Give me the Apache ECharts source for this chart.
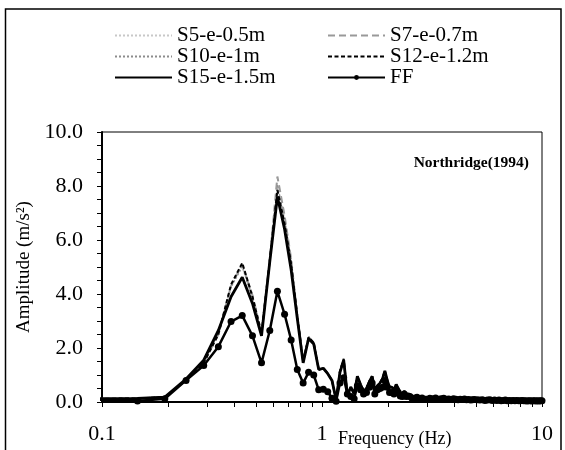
<!DOCTYPE html>
<html>
<head>
<meta charset="utf-8">
<script src="https://cdn.jsdelivr.net/npm/echarts@6/dist/echarts.min.js"></script>
<style>html,body{margin:0;padding:0;background:#fff}#c{width:565px;height:450px}</style>
</head>
<body>
<div id="c"></div>
<script>
// Frequency grid (Hz)
const freqLow = [0.097,0.145,0.193,0.241,0.290,0.338,0.386,0.434,0.483,0.531,
  0.579,0.627,0.676,0.724,0.772,0.821,0.869,0.917,0.966,1.014,
  1.062,1.110,1.159,1.207,1.255,1.304,1.352,1.400,1.448,1.497,
  1.545,1.593,1.642,1.690,1.738,1.786,1.835,1.883,1.931,1.980,
  2.028,2.076,2.124,2.173,2.221,2.269,2.318,2.366,2.414,2.463,
  2.511,2.559,2.607,2.656,2.704,2.752,2.801,2.849,2.897,2.945,2.994];
const freqHigh = [3.091,3.187,3.284,3.380,3.477,3.574,3.670,3.767,3.863,3.960,
  4.056,4.153,4.250,4.346,4.443,4.539,4.636,4.732,4.829,4.925,
  5.070,5.215,5.360,5.505,5.650,5.795,5.940,6.085,6.230,6.375,
  6.520,6.665,6.810,6.955,7.100,7.245,7.390,7.535,7.680,7.825,
  7.970,8.115,8.260,8.405,8.550,8.695,8.840,8.985,9.130,9.275,
  9.420,9.565,9.710,9.855,10.000];
const freqTail = [3.5,4,5,6,7,8,9,10];

// Amplitudes (m/s^2)
const s5Low = [0.12,0.13,0.18,0.82,1.48,2.55,4.25,5.00,3.85,2.50,
  5.25,7.95,6.70,5.25,3.20,1.50,2.40,2.20,1.22,1.25,
  1.05,0.80,0.10,1.12,1.58,0.25,0.55,0.30,0.95,0.65,
  0.40,0.50,0.76,0.95,0.45,0.60,0.70,0.86,1.15,0.80,
  0.55,0.55,0.45,0.65,0.50,0.35,0.28,0.40,0.30,0.30,
  0.25,0.20,0.12,0.18,0.22,0.15,0.15,0.20,0.15,0.12,0.12];
const s5Tail = [0.12,0.10,0.08,0.07,0.06,0.05,0.05,0.05];
const s7Low = [0.12,0.13,0.18,0.80,1.45,2.50,4.30,5.10,3.95,2.55,
  5.30,8.35,6.90,5.30,3.20,1.50,2.40,2.20,1.25,1.25,
  1.05,0.80,0.10,1.15,1.60,0.25,0.55,0.30,0.95,0.65,
  0.40,0.50,0.78,0.95,0.45,0.60,0.70,0.88,1.15,0.80,
  0.55,0.55,0.45,0.65,0.50,0.35,0.28,0.40,0.30,0.30,
  0.25,0.20,0.12,0.18,0.22,0.15,0.15,0.20,0.15,0.12,0.12];
const s7Tail = [0.12,0.10,0.08,0.07,0.06,0.05,0.05,0.05];
const s10Low = [0.12,0.13,0.18,0.82,1.48,2.55,4.28,5.02,3.88,2.52,
  5.25,8.05,6.75,5.28,3.20,1.50,2.40,2.20,1.22,1.25,
  1.05,0.80,0.10,1.12,1.58,0.25,0.55,0.30,0.95,0.65,
  0.40,0.50,0.76,0.95,0.45,0.60,0.70,0.86,1.15,0.80,
  0.55,0.55,0.45,0.65,0.50,0.35,0.28,0.40,0.30,0.30,
  0.25,0.20,0.12,0.18,0.22,0.15,0.15,0.20,0.15,0.12,0.12];
const s10Tail = [0.12,0.10,0.08,0.07,0.06,0.05,0.05,0.05];
const s12Low = [0.12,0.13,0.18,0.80,1.45,2.50,4.35,5.15,3.90,2.55,
  5.25,7.85,6.60,5.10,3.20,1.50,2.40,2.20,1.20,1.25,
  1.05,0.80,0.10,1.15,1.60,0.25,0.55,0.30,0.95,0.65,
  0.40,0.50,0.78,0.95,0.45,0.60,0.70,0.88,1.15,0.80,
  0.55,0.55,0.45,0.65,0.50,0.35,0.28,0.40,0.30,0.30,
  0.25,0.20,0.12,0.18,0.22,0.15,0.15,0.20,0.15,0.12,0.12];
const s12Tail = [0.12,0.10,0.08,0.07,0.06,0.05,0.05,0.05];
const s15Low = [0.12,0.13,0.18,0.85,1.55,2.65,3.90,4.62,3.65,2.45,
  5.20,7.60,6.40,4.90,3.10,1.45,2.35,2.15,1.20,1.25,
  1.05,0.80,0.08,1.10,1.55,0.25,0.55,0.30,0.95,0.65,
  0.40,0.50,0.75,0.95,0.45,0.60,0.70,0.85,1.15,0.80,
  0.55,0.55,0.45,0.65,0.50,0.35,0.28,0.40,0.30,0.30,
  0.25,0.20,0.12,0.18,0.22,0.15,0.15,0.20,0.15,0.12,0.12];
const s15Tail = [0.12,0.10,0.08,0.07,0.06,0.05,0.05,0.05];
const ffLow = [0.08,0.04,0.12,0.80,1.35,2.05,2.98,3.20,2.45,1.45,
  2.65,4.10,3.25,2.30,1.20,0.70,1.10,1.00,0.45,0.47,
  0.38,0.14,0.03,0.70,0.90,0.30,0.20,0.12,0.60,0.45,
  0.30,0.35,0.55,0.70,0.30,0.45,0.50,0.55,0.80,0.55,
  0.35,0.35,0.30,0.45,0.35,0.22,0.20,0.30,0.20,0.22,
  0.20,0.15,0.10,0.15,0.18,0.12,0.12,0.15,0.10,0.10,0.10];
const ffHigh = [0.14,0.12,0.15,0.10,0.12,0.14,0.10,0.11,0.09,0.12,
  0.10,0.08,0.10,0.09,0.11,0.08,0.09,0.07,0.08,0.09,
  0.08,0.07,0.08,0.06,0.07,0.08,0.06,0.07,0.06,0.07,
  0.05,0.06,0.07,0.05,0.06,0.05,0.06,0.05,0.06,0.05,
  0.05,0.06,0.05,0.05,0.04,0.05,0.05,0.04,0.05,0.05,
  0.04,0.05,0.04,0.05,0.05];

const xTickValues = [0.1,0.2,0.3,0.4,0.5,0.6,0.7,0.8,0.9,1,2,3,4,5,6,7,8,9,10];

function pairs(xs, ys) { return xs.map((x, i) => [x, ys[i]]); }

const FONT = '"Liberation Serif", "Times New Roman", serif';
const chart = echarts.init(document.getElementById('c'), null, {renderer: 'canvas'});

function sSeries(name, low, tail, color, width, dash, z) {
  return {
    name: name, type: 'line', symbol: 'none', z: z,
    data: pairs(freqLow.concat(freqTail), low.concat(tail)),
    lineStyle: {color: color, width: width, type: dash},
    itemStyle: {color: color},
    clip: true
  };
}
const hideSym = {color: 'transparent', opacity: 0, borderWidth: 0};
const legendText = {fontFamily: FONT, fontSize: 21, color: '#000', lineHeight: 21};

chart.setOption({
  animation: false,
  backgroundColor: '#fff',
  graphic: [{
    type: 'rect', silent: true, z: -10,
    shape: {x: 5.5, y: 9, width: 555.5, height: 470},
    style: {fill: 'none', stroke: '#000', lineWidth: 1.5}
  }],
  title: [
    {text: 'Northridge(1994)', right: 31, top: 150,
     textStyle: {fontFamily: FONT, fontSize: 15.5, fontWeight: 'bold', color: '#000'}},
    {text: 'Frequency (Hz)', left: 333, top: 425,
     textStyle: {fontFamily: FONT, fontSize: 18, fontWeight: 'normal', color: '#000'}}
  ],
  legend: [
    {data: [{name: 'S5-e-0.5m', itemStyle: hideSym}, {name: 'S10-e-1m', itemStyle: hideSym},
            {name: 'S15-e-1.5m', itemStyle: hideSym}],
     orient: 'vertical', left: 109, top: 20, itemWidth: 57, itemHeight: 6, itemGap: 0,
     textStyle: legendText},
    {data: [{name: 'S7-e-0.7m', itemStyle: hideSym}, {name: 'S12-e-1.2m', itemStyle: hideSym}, 'FF'],
     orient: 'vertical', left: 322, top: 20, itemWidth: 57, itemHeight: 6, itemGap: 0,
     textStyle: legendText}
  ],
  grid: {left: 102, right: 23, top: 132, bottom: 48, show: true,
         borderColor: '#000', borderWidth: 1, backgroundColor: 'transparent'},
  xAxis: {
    type: 'log', logBase: 10, min: 0.1, max: 10,
    axisLine: {show: true, lineStyle: {color: '#000', width: 2}},
    axisTick: {show: true, inside: false, length: 5, customValues: xTickValues,
               lineStyle: {color: '#000', width: 1}},
    axisLabel: {fontFamily: FONT, fontSize: 22, color: '#000', margin: 21,
                formatter: v => String(v)},
    splitLine: {show: false}
  },
  yAxis: {
    type: 'value', min: 0, max: 10, interval: 2,
    name: 'Amplitude (m/s²)', nameLocation: 'middle', nameGap: 66,
    nameTextStyle: {fontFamily: FONT, fontSize: 19, color: '#000'},
    axisLine: {show: true, lineStyle: {color: '#000', width: 2}},
    axisTick: {show: true, inside: false, length: 5, lineStyle: {color: '#000', width: 1}},
    minorTick: {show: true, splitNumber: 4, length: 5, lineStyle: {color: '#000', width: 1}},
    axisLabel: {fontFamily: FONT, fontSize: 22, color: '#000', margin: 19,
                formatter: v => v.toFixed(1)},
    splitLine: {show: false}
  },
  series: [
    sSeries('S5-e-0.5m', s5Low, s5Tail, '#c8c8c8', 1.5, [2, 2], 2),
    sSeries('S10-e-1m', s10Low, s10Tail, '#8c8c8c', 1.5, [2, 2], 3),
    sSeries('S7-e-0.7m', s7Low, s7Tail, '#999999', 2, [7, 4], 4),
    sSeries('S12-e-1.2m', s12Low, s12Tail, '#000000', 2, [4, 2.5], 5),
    sSeries('S15-e-1.5m', s15Low, s15Tail, '#000000', 2.8, 'solid', 6),
    {
      name: 'FF', type: 'line', z: 7, symbol: 'circle', symbolSize: 7, showAllSymbol: true,
      data: pairs(freqLow.concat(freqHigh), ffLow.concat(ffHigh)),
      lineStyle: {color: '#000', width: 2.5},
      itemStyle: {color: '#000'},
      clip: true
    }
  ]
});
</script>
</body>
</html>
